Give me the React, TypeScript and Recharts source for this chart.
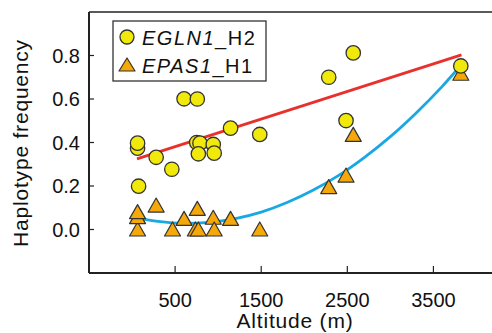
import React from 'react';
import {
  ComposedChart,
  Scatter,
  Line,
  XAxis,
  YAxis,
  ReferenceLine,
} from 'recharts';

// EGLN1_H2 haplotype frequency by altitude (circles)
const egln1Altitude = [64, 64, 76, 280, 462, 604, 758, 751, 789, 770, 943, 954, 1144, 1483, 2284, 2485, 2569, 3818];
const egln1Freq = [0.374, 0.397, 0.199, 0.332, 0.277, 0.601, 0.6, 0.4, 0.397, 0.348, 0.391, 0.351, 0.466, 0.437, 0.7, 0.501, 0.812, 0.752];

// EPAS1_H1 haplotype frequency by altitude (triangles)
const epas1Altitude = [64, 64, 64, 280, 470, 604, 758, 735, 770, 943, 954, 1144, 1483, 2284, 2485, 2569, 3818];
const epas1Freq = [0.0, 0.057, 0.08, 0.11, 0.0, 0.049, 0.095, 0.0, 0.0, 0.054, 0.0, 0.049, 0.0, 0.195, 0.248, 0.435, 0.716];

// fitted trend lines
const redFitAltitude = [57, 3826];
const redFitFreq = [0.325, 0.803];
const blueFitAltitude = [57, 300, 600, 900, 1200, 1500, 1800, 2100, 2400, 2700, 3000, 3300, 3600, 3820];
const blueFitFreq = [0.053, 0.037, 0.028, 0.033, 0.05, 0.08, 0.124, 0.18, 0.249, 0.332, 0.427, 0.536, 0.657, 0.755];

const xTicks = [500, 1500, 2500, 3500];
const yTicks = [0, 0.2, 0.4, 0.6, 0.8];

const toPoints = (xs: number[], ys: number[]) => xs.map((x, i) => ({ x, y: ys[i] }));

const egln1Data = toPoints(egln1Altitude, egln1Freq);
const epas1Data = toPoints(epas1Altitude, epas1Freq);
const redFitData = toPoints(redFitAltitude, redFitFreq);
const blueFitData = toPoints(blueFitAltitude, blueFitFreq);

const FONT = '"Liberation Sans", Arial, Helvetica, sans-serif';
const AXIS_COLOR = '#222';
const CIRCLE_FILL = '#f2e90c';
const TRIANGLE_FILL = '#f5a80a';
const MARK_STROKE = '#333';

const Circle = (props: any) => (
  <circle cx={props.cx} cy={props.cy} r={7.2} fill={CIRCLE_FILL} stroke={MARK_STROKE} strokeWidth={1.3} />
);

const Triangle = (props: any) => {
  const { cx, cy } = props;
  return (
    <polygon
      points={`${cx},${cy - 7.5} ${cx + 8},${cy + 6.5} ${cx - 8},${cy + 6.5}`}
      fill={TRIANGLE_FILL}
      stroke={MARK_STROKE}
      strokeWidth={1.2}
      strokeLinejoin="round"
    />
  );
};

const YTick = (props: any) => {
  const { x, y, payload } = props;
  const axisX = x + 9;
  return (
    <g>
      <line x1={axisX} x2={axisX + 5} y1={y} y2={y} stroke={AXIS_COLOR} strokeWidth={1.2} />
      <text x={x} y={y + 7} textAnchor="end" fontSize={20} fontFamily={FONT} fill="#111">
        {Number(payload.value).toFixed(1)}
      </text>
    </g>
  );
};

const XTick = (props: any) => {
  const { x, y, payload } = props;
  const axisY = y - 4;
  return (
    <g>
      <line x1={x} x2={x} y1={axisY} y2={axisY - 7} stroke={AXIS_COLOR} strokeWidth={1.2} />
      <text x={x} y={axisY + 34} textAnchor="middle" fontSize={20} fontFamily={FONT} fill="#111">
        {payload.value}
      </text>
    </g>
  );
};

const LegendBox = () => (
  <svg width={160} height={70} style={{ position: 'absolute', left: 110, top: 18 }}>
    <rect x={3} y={3} width={153} height={60} fill="#fff" stroke="#333" strokeWidth={1.3} />
    <circle cx={17} cy={19} r={7} fill={CIRCLE_FILL} stroke={MARK_STROKE} strokeWidth={1.3} />
    <text x={32} y={27} fontSize={20} fontFamily={FONT} fill="#111" letterSpacing={1.5}>
      <tspan fontStyle="italic">EGLN1</tspan>
      <tspan>_H2</tspan>
    </text>
    <polygon points="17,40 25,53 9,53" fill={TRIANGLE_FILL} stroke={MARK_STROKE} strokeWidth={1.2} strokeLinejoin="round" />
    <text x={32} y={55} fontSize={20} fontFamily={FONT} fill="#111" letterSpacing={1.5}>
      <tspan fontStyle="italic">EPAS1</tspan>
      <tspan>_H1</tspan>
    </text>
  </svg>
);

export default function App() {
  return (
    <div style={{ position: 'relative', width: 492, height: 333, overflow: 'hidden', background: '#fff' }}>
      <style>{'body { margin: 0; }'}</style>
      <ComposedChart width={500} height={333} margin={{ top: 12, right: 2, bottom: 10, left: 0 }}>
        <XAxis
          type="number"
          dataKey="x"
          domain={[-500, 4250]}
          ticks={xTicks}
          height={50}
          tickSize={0}
          tickMargin={4}
          tick={<XTick />}
          tickLine={false}
          axisLine={{ stroke: AXIS_COLOR, strokeWidth: 2 }}
          allowDataOverflow
          label={{
            content: () => (
              <text x={295} y={328} textAnchor="middle" fontSize={21} fontFamily={FONT} fill="#111" letterSpacing={0.8}>
                Altitude (m)
              </text>
            ),
          }}
        />
        <YAxis
          type="number"
          dataKey="y"
          domain={[-0.2, 1.0]}
          ticks={yTicks}
          width={89}
          tickSize={0}
          tickMargin={9}
          tick={<YTick />}
          tickLine={false}
          axisLine={{ stroke: AXIS_COLOR, strokeWidth: 2 }}
          allowDataOverflow
          label={{
            content: () => (
              <text
                x={28}
                y={143}
                textAnchor="middle"
                fontSize={21}
                fontFamily={FONT}
                fill="#111"
                letterSpacing={0.8}
                transform="rotate(-90, 28, 143)"
              >
                Haplotype frequency
              </text>
            ),
          }}
        />
        <ReferenceLine y={1.0} stroke={AXIS_COLOR} strokeWidth={1.5} />
        <Line
          data={redFitData}
          dataKey="y"
          type="linear"
          stroke="#e8302c"
          strokeWidth={2.8}
          dot={false}
          activeDot={false}
          isAnimationActive={false}
        />
        <Line
          data={blueFitData}
          dataKey="y"
          type="monotone"
          stroke="#1aa8e2"
          strokeWidth={2.8}
          dot={false}
          activeDot={false}
          isAnimationActive={false}
        />
        <Scatter data={epas1Data} dataKey="y" shape={<Triangle />} isAnimationActive={false} />
        <Scatter data={egln1Data} dataKey="y" shape={<Circle />} isAnimationActive={false} />
      </ComposedChart>
      <LegendBox />
    </div>
  );
}
